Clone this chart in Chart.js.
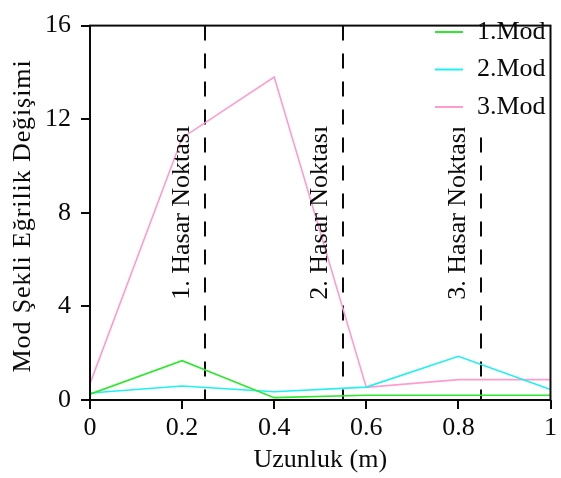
<!DOCTYPE html>
<html>
<head>
<meta charset="utf-8">
<script src="https://cdn.jsdelivr.net/npm/chart.js@4.4.1/dist/chart.umd.min.js"></script>
<style>
  html, body { margin: 0; padding: 0; background: #fff; }
  canvas { display: block; }
</style>
</head>
<body>
<canvas id="grafico" width="561" height="478"></canvas>
<script>
// eleman boyunca ölçüm noktaları (m)
const uzunluk = [0, 0.2, 0.4, 0.6, 0.8, 1];
const mod1 = [0.25, 1.68, 0.1, 0.2, 0.2, 0.2];
const mod2 = [0.3, 0.6, 0.35, 0.55, 1.87, 0.45];
const mod3 = [0.7, 11.2, 13.8, 0.54, 0.87, 0.87];

const hasarKonum = [0.25, 0.55, 0.85];
const hasarEtiket = ['1. Hasar Noktası', '2. Hasar Noktası', '3. Hasar Noktası'];

const xTicks = [0, 0.2, 0.4, 0.6, 0.8, 1];
const yTicks = [0, 4, 8, 12, 16];

const FONT = '"Liberation Serif", "Times New Roman", serif';
const INK = '#0a0a0a';

function seri(values) {
  return uzunluk.map((x, i) => ({ x, y: values[i] }));
}

const seriler = [
  { label: '1.Mod', data: seri(mod1), borderColor: '#2ee82e' },
  { label: '2.Mod', data: seri(mod2), borderColor: '#1ff0f0' },
  { label: '3.Mod', data: seri(mod3), borderColor: '#ff9ccd' },
];

// çerçeve, kesikli hasar çizgileri, etiketler ve lejant
const ekler = {
  id: 'ekler',
  beforeDatasetsDraw(chart) {
    const { ctx, chartArea: a, scales } = chart;
    ctx.save();
    ctx.strokeStyle = INK;
    ctx.lineWidth = 2;
    ctx.setLineDash([15, 13]);
    hasarKonum.forEach((v) => {
      const px = Math.round(scales.x.getPixelForValue(v));
      ctx.beginPath();
      ctx.moveTo(px, a.top);
      ctx.lineTo(px, a.bottom);
      ctx.stroke();
    });
    ctx.restore();
  },
  afterDatasetsDraw(chart) {
    const { ctx, chartArea: a, scales } = chart;
    ctx.save();
    ctx.fillStyle = INK;
    ctx.font = '26px ' + FONT;

    // hasar noktası yazıları (dikey)
    const ortaY = (a.top + a.bottom) / 2;
    hasarKonum.forEach((v, i) => {
      const px = scales.x.getPixelForValue(v);
      ctx.save();
      ctx.translate(px - 16, ortaY);
      ctx.rotate(-Math.PI / 2);
      ctx.textAlign = 'center';
      ctx.textBaseline = 'alphabetic';
      ctx.fillText(hasarEtiket[i], 0, 0);
      ctx.restore();
    });

    // lejant kutusu
    ctx.fillStyle = '#fff';
    ctx.fillRect(426, a.top + 1, a.right - 427, 101);
    chart.data.datasets.forEach((ds, i) => {
      const y = 32 + i * 37.5;
      ctx.strokeStyle = ds.borderColor;
      ctx.lineWidth = 2;
      ctx.beginPath();
      ctx.moveTo(435, y);
      ctx.lineTo(463, y);
      ctx.stroke();
      ctx.fillStyle = INK;
      ctx.textAlign = 'left';
      ctx.textBaseline = 'middle';
      ctx.fillText(ds.label, 477, y);
    });

    // dış çerçeve
    ctx.strokeStyle = INK;
    ctx.lineWidth = 2;
    ctx.strokeRect(a.left, a.top, a.right - a.left, a.bottom - a.top);

    // y ekseni başlığı
    ctx.save();
    ctx.translate(23, 216);
    ctx.rotate(-Math.PI / 2);
    ctx.textAlign = 'center';
    ctx.textBaseline = 'middle';
    ctx.letterSpacing = '0.9px';
    ctx.fillText('Mod Şekli Eğrilik Değişimi', 0, 0);
    ctx.restore();
    ctx.restore();
  },
};

new Chart(document.getElementById('grafico'), {
  type: 'line',
  data: {
    datasets: seriler.map((s) => ({
      ...s,
      borderWidth: 1.6,
      pointRadius: 0,
      tension: 0,
      fill: false,
    })),
  },
  options: {
    responsive: false,
    animation: false,
    events: [],
    layout: { padding: { top: 15, right: 7, left: 0, bottom: 0 } },
    plugins: {
      legend: { display: false },
      tooltip: { enabled: false },
    },
    scales: {
      x: {
        type: 'linear',
        min: 0,
        max: 1,
        afterBuildTicks: (s) => { s.ticks = xTicks.map((v) => ({ value: v })); },
        afterFit: (s) => { s.height = 78; },
        border: { display: false },
        grid: { drawOnChartArea: false, drawTicks: true, tickLength: 9, color: INK, lineWidth: 2 },
        ticks: {
          color: INK,
          font: { family: FONT, size: 26 },
          padding: 4,
          maxRotation: 0,
          callback: (v) => String(v),
        },
        title: {
          display: true,
          text: 'Uzunluk (m)',
          color: INK,
          font: { family: FONT, size: 26 },
          padding: { top: 0, bottom: 2 },
        },
      },
      y: {
        min: 0,
        max: 16,
        afterBuildTicks: (s) => { s.ticks = yTicks.map((v) => ({ value: v })); },
        afterFit: (s) => { s.width = 90; },
        border: { display: false },
        grid: { drawOnChartArea: false, drawTicks: true, tickLength: 9, color: INK, lineWidth: 2 },
        ticks: {
          color: INK,
          font: { family: FONT, size: 26 },
          padding: 10,
          callback: (v) => String(v),
        },
      },
    },
  },
  plugins: [ekler],
});
</script>
</body>
</html>
